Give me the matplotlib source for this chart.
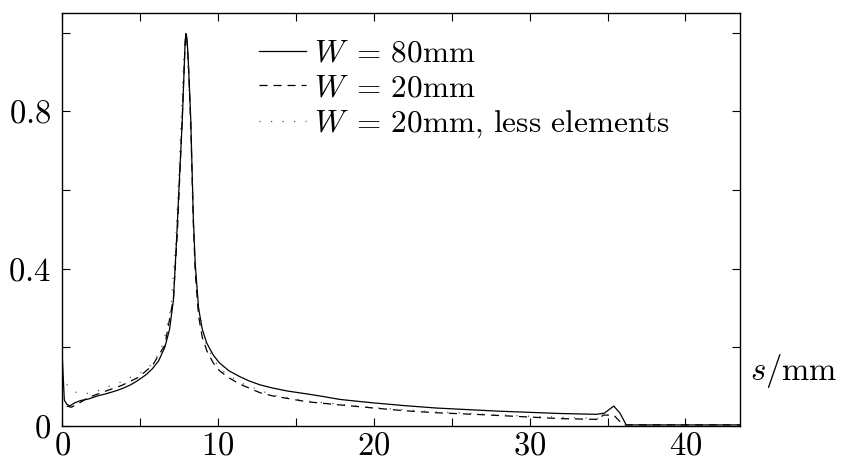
import matplotlib
matplotlib.use("Agg")
import matplotlib.pyplot as plt

# W = 80mm
s_80 = [0.0, 0.15, 0.3, 0.5, 0.8, 1.2, 1.7, 2.3, 2.8, 3.4, 3.9, 4.4, 4.9, 5.4, 5.8,
        6.2, 6.6, 6.9, 7.15, 7.36, 7.5, 7.72, 7.83, 7.9, 7.95, 8.0, 8.06, 8.13,
        8.26, 8.43, 8.55, 8.76, 9.0, 9.29, 9.7, 10.1, 10.7, 11.4, 12.0, 12.7, 13.5,
        14.5, 15.7, 16.8, 17.8, 19.0, 20.0, 22.0, 24.0, 26.0, 28.0, 30.0, 32.0,
        34.3, 34.8, 35.4, 35.8, 36.2, 37.0, 40.0, 43.5]
f_80 = [0.19, 0.065, 0.055, 0.05, 0.058, 0.064, 0.068, 0.076, 0.081, 0.088, 0.095,
        0.104, 0.116, 0.13, 0.145, 0.165, 0.2, 0.245, 0.32, 0.48, 0.6, 0.78, 0.9,
        0.975, 0.998, 0.99, 0.96, 0.905, 0.78, 0.525, 0.41, 0.30, 0.245, 0.21, 0.18,
        0.16, 0.14, 0.125, 0.114, 0.104, 0.096, 0.088, 0.081, 0.074, 0.067, 0.062,
        0.058, 0.051, 0.045, 0.041, 0.037, 0.034, 0.031, 0.029, 0.032, 0.05, 0.032,
        0.002, 0.002, 0.002, 0.002]

# W = 20mm
s_20 = [0.3, 0.6, 1.0, 1.7, 2.8, 3.8, 4.9, 5.8, 6.6, 7.15, 7.4, 7.72, 7.83, 7.9,
        7.95, 8.0, 8.06, 8.13, 8.26, 8.43, 8.55, 8.76, 9.0, 9.3, 9.7, 10.1, 10.7,
        11.4, 12.7, 13.5, 15.7, 17.8, 20.0, 22.0, 24.0, 27.0, 30.0, 32.0, 34.5,
        34.7, 35.4, 36.0, 37.0, 43.5]
f_20 = [0.05, 0.047, 0.055, 0.072, 0.088, 0.102, 0.123, 0.153, 0.205, 0.325, 0.49,
        0.79, 0.905, 0.975, 0.995, 0.985, 0.955, 0.9, 0.77, 0.51, 0.39, 0.28, 0.225,
        0.19, 0.16, 0.14, 0.122, 0.106, 0.084, 0.076, 0.061, 0.053, 0.045, 0.038,
        0.033, 0.028, 0.022, 0.018, 0.016, 0.027, 0.027, 0.002, 0.002, 0.002]

# W = 20mm, less elements
s_20l = [0.3, 0.9, 1.6, 2.3, 3.0, 3.7, 4.4, 5.1, 5.9, 6.5, 7.0, 7.3, 7.6, 7.8, 7.88,
         7.95, 8.05, 8.2, 8.4, 8.6, 8.8, 9.3, 10.1, 11.4, 13.5, 15.7, 20.0, 24.0,
         30.0, 34.5, 34.7, 35.4, 36.0, 43.5]
f_20l = [0.105, 0.085, 0.082, 0.089, 0.10, 0.11, 0.123, 0.136, 0.16, 0.21, 0.30,
         0.47, 0.74, 0.92, 0.975, 0.98, 0.95, 0.8, 0.55, 0.39, 0.29, 0.2, 0.145, 0.11,
         0.078, 0.063, 0.046, 0.035, 0.024, 0.018, 0.027, 0.027, 0.002, 0.002]

labels = [r"$W\;=\,80$mm", r"$W\;=\,20$mm", r"$W\;=\,20$mm, less elements"]

x_ticks = [0, 5, 10, 15, 20, 25, 30, 35, 40]
x_labels = ["$0$", "", "$10$", "", "$20$", "", "$30$", "", "$40$"]
y_ticks = [0, 0.2, 0.4, 0.6, 0.8, 1.0]
y_labels = ["$0$", "", "$0.4$", "", "$0.8$", ""]

plt.rcParams["mathtext.fontset"] = "cm"
plt.rcParams["font.family"] = ["cmr10", "DejaVu Serif"]
plt.rcParams["axes.formatter.use_mathtext"] = True
plt.rcParams["lines.scale_dashes"] = False

fig = plt.figure(figsize=(8.46, 4.61), dpi=100)
ax = fig.add_axes([62 / 846, 1 - 425.7 / 461, (740 - 62) / 846, (425.7 - 12.7) / 461])

lw = 0.9
ax.plot(s_80, f_80, color="black", lw=lw, label=labels[0])
ax.plot(s_20, f_20, color="black", lw=lw, dashes=(5.8, 4.3), label=labels[1])
ax.plot(s_20l, f_20l, color="#444444", lw=lw, dashes=(0.8, 7.5), label=labels[2])

ax.set_xlim(0, 43.5)
ax.set_ylim(0, 1.0 + 20 / 391.5)

ax.set_xticks(x_ticks)
ax.set_xticklabels(x_labels)
ax.set_yticks(y_ticks)
ax.set_yticklabels(y_labels)
ax.tick_params(direction="in", length=6, width=0.8, top=True, right=True,
               labelsize=23.5)
ax.tick_params(axis="x", pad=4)
ax.tick_params(axis="y", pad=8)
for sp in ax.spines.values():
    sp.set_linewidth(1.0)

fig.text(750 / 846, 1 - 371 / 461, r"$s/\mathrm{mm}$", fontsize=23.5,
         ha="left", va="center")

ax.legend(loc="upper left", bbox_to_anchor=(259 / 846, 1 - 40 / 461),
          bbox_transform=fig.transFigure, frameon=False, fontsize=22.5,
          handlelength=1.5, handletextpad=0.26, labelspacing=0.2,
          borderpad=0, borderaxespad=0)

fig.savefig("out.png", dpi=100)
